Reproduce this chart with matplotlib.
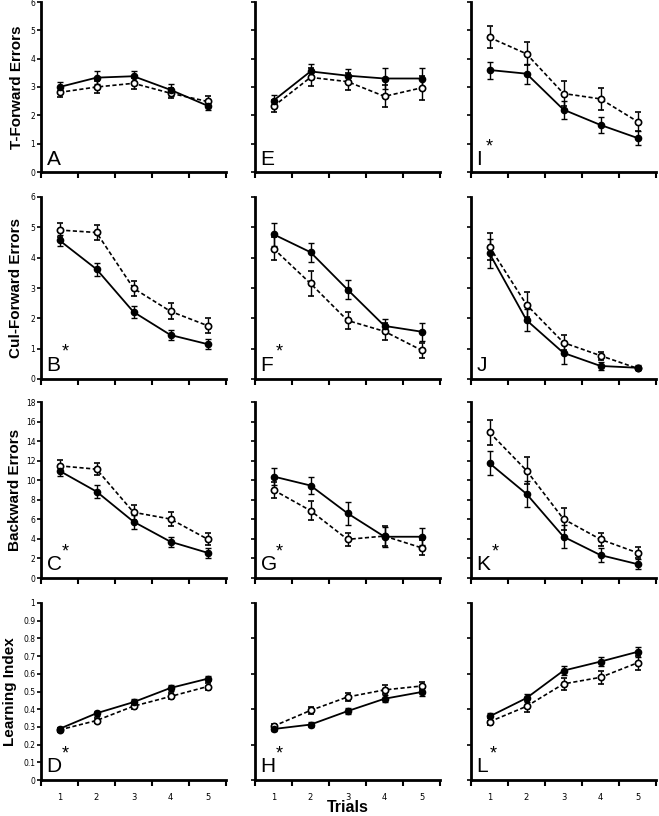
import numpy as np
import matplotlib
matplotlib.use("Agg")
import matplotlib.pyplot as plt

plt.rcParams['font.family'] = ['Liberation Sans', 'DejaVu Sans']

trials = [1, 2, 3, 4, 5]

# row 1: T-Forward errors
A_filled = [3.00, 3.33, 3.38, 2.90, 2.34]
A_filled_err = [0.17, 0.23, 0.20, 0.20, 0.16]
A_open = [2.81, 3.00, 3.13, 2.78, 2.49]
A_open_err = [0.18, 0.20, 0.20, 0.18, 0.18]
E_filled = [2.52, 3.55, 3.40, 3.30, 3.30]
E_filled_err = [0.19, 0.26, 0.25, 0.36, 0.36]
E_open = [2.32, 3.34, 3.19, 2.67, 2.97]
E_open_err = [0.21, 0.32, 0.29, 0.39, 0.42]
I_filled = [3.60, 3.47, 2.20, 1.66, 1.20]
I_filled_err = [0.30, 0.35, 0.32, 0.28, 0.26]
I_open = [4.75, 4.17, 2.77, 2.58, 1.78]
I_open_err = [0.39, 0.41, 0.45, 0.38, 0.34]

# row 2: Cul-Forward errors
B_filled = [4.57, 3.62, 2.21, 1.45, 1.15]
B_filled_err = [0.19, 0.22, 0.20, 0.17, 0.17]
B_open = [4.91, 4.83, 2.99, 2.23, 1.76]
B_open_err = [0.22, 0.26, 0.25, 0.26, 0.25]
F_filled = [4.77, 4.18, 2.95, 1.75, 1.56]
F_filled_err = [0.38, 0.31, 0.30, 0.24, 0.30]
F_open = [4.30, 3.15, 1.93, 1.57, 0.95]
F_open_err = [0.37, 0.41, 0.28, 0.29, 0.25]
J_filled = [4.14, 1.94, 0.86, 0.43, 0.37]
J_filled_err = [0.47, 0.37, 0.37, 0.12, 0.08]
J_open = [4.36, 2.45, 1.20, 0.77, 0.35]
J_open_err = [0.45, 0.42, 0.26, 0.13, 0.05]

# row 3: Backward errors
C_filled = [10.96, 8.84, 5.76, 3.71, 2.58]
C_filled_err = [0.5, 0.7, 0.7, 0.5, 0.5]
C_open = [11.47, 11.13, 6.72, 6.03, 3.98]
C_open_err = [0.6, 0.6, 0.75, 0.75, 0.65]
G_filled = [10.38, 9.46, 6.62, 4.22, 4.22]
G_filled_err = [0.85, 0.9, 1.2, 1.0, 0.85]
G_open = [9.0, 6.89, 3.95, 4.29, 3.09]
G_open_err = [0.8, 0.95, 0.7, 1.0, 0.75]
K_filled = [11.74, 8.6, 4.22, 2.34, 1.42]
K_filled_err = [1.25, 1.35, 1.2, 0.7, 0.5]
K_open = [14.89, 10.99, 6.03, 3.95, 2.58]
K_open_err = [1.25, 1.37, 1.1, 0.7, 0.55]

# row 4: Learning index
D_filled = [0.289, 0.377, 0.440, 0.520, 0.572]
D_filled_err = [0.012, 0.015, 0.017, 0.015, 0.014]
D_open = [0.283, 0.336, 0.417, 0.472, 0.528]
D_open_err = [0.012, 0.015, 0.018, 0.017, 0.020]
H_filled = [0.288, 0.313, 0.389, 0.459, 0.497]
H_filled_err = [0.012, 0.012, 0.015, 0.020, 0.025]
H_open = [0.304, 0.393, 0.469, 0.509, 0.531]
H_open_err = [0.012, 0.022, 0.022, 0.025, 0.020]
L_filled = [0.359, 0.463, 0.618, 0.669, 0.724]
L_filled_err = [0.020, 0.025, 0.025, 0.025, 0.030]
L_open = [0.329, 0.416, 0.543, 0.580, 0.662]
L_open_err = [0.020, 0.030, 0.035, 0.035, 0.040]

row_labels = ["T-Forward Errors", "Cul-Forward Errors", "Backward Errors", "Learning Index"]
row_ymax = [6, 6, 18, 1]
row_step_left = [1, 1, 2, 0.1]
row_step_other = [1, 1, 2, 0.2]

panels = [
    [("A", False, A_filled, A_filled_err, A_open, A_open_err),
     ("E", False, E_filled, E_filled_err, E_open, E_open_err),
     ("I", True, I_filled, I_filled_err, I_open, I_open_err)],
    [("B", True, B_filled, B_filled_err, B_open, B_open_err),
     ("F", True, F_filled, F_filled_err, F_open, F_open_err),
     ("J", False, J_filled, J_filled_err, J_open, J_open_err)],
    [("C", True, C_filled, C_filled_err, C_open, C_open_err),
     ("G", True, G_filled, G_filled_err, G_open, G_open_err),
     ("K", True, K_filled, K_filled_err, K_open, K_open_err)],
    [("D", True, D_filled, D_filled_err, D_open, D_open_err),
     ("H", True, H_filled, H_filled_err, H_open, H_open_err),
     ("L", True, L_filled, L_filled_err, L_open, L_open_err)],
]

W, H = 659, 816
fig = plt.figure(figsize=(W / 100, H / 100), dpi=100)

col_left = [41, 255, 471]
col_width = 185
row_top = [2, 197, 402, 603]
row_bottom = [172, 379, 578, 780]
label_x = [17, 16, 15, 10]
narrow = ['Liberation Sans Narrow', 'DejaVu Sans']
star_x = {"I": 0.08, "L": 0.1}

x = np.array(trials) - 0.5

for r in range(4):
    for c in range(3):
        letter, star, yf, ef, yo, eo = panels[r][c]
        ax = fig.add_axes([col_left[c] / W, 1 - row_bottom[r] / H,
                           col_width / W, (row_bottom[r] - row_top[r]) / H])
        ax.errorbar(x, yo, yerr=eo, fmt='o', linestyle=(0, (2.5, 1.5)), color='black',
                    mfc='white', mec='black', ms=4.5, mew=1.2, lw=1.2,
                    capsize=2.5, elinewidth=1.0, capthick=1.0)
        ax.errorbar(x, yf, yerr=ef, fmt='o', linestyle='-', color='black',
                    mfc='black', mec='black', ms=4.5, lw=1.3,
                    capsize=2.5, elinewidth=1.0, capthick=1.0)

        ax.set_xlim(0, 5)
        ax.set_ylim(0, row_ymax[r])
        for s in ['top', 'right']:
            ax.spines[s].set_visible(False)
        for s in ['left', 'bottom']:
            ax.spines[s].set_linewidth(2.0)

        ax.set_xticks(range(6))
        ax.set_xticklabels([])
        ax.tick_params(axis='x', which='major', direction='out', length=4, width=1.5)
        if r == 3:
            ax.set_xticks(x, minor=True)
            ax.set_xticklabels([str(t) for t in trials], minor=True,
                               fontsize=6, family=narrow)
            ax.tick_params(axis='x', which='minor', length=0, pad=9)

        step = row_step_left[r] if c == 0 else row_step_other[r]
        yt = np.arange(0, row_ymax[r] + step / 2, step)
        ax.set_yticks(yt)
        ax.tick_params(axis='y', direction='out', length=3, width=1.2, pad=1)
        if c == 0:
            ax.set_yticklabels(["%g" % v for v in yt], fontsize=5.5, family=narrow)
        else:
            ax.set_yticklabels([])

        ax.text(0.03, 0.02, letter, transform=ax.transAxes, fontsize=15,
                ha='left', va='bottom')
        if star:
            ax.text(star_x.get(letter, 0.11), 0.1, "*", transform=ax.transAxes,
                    fontsize=13, ha='left', va='bottom')

    fig.text(label_x[r] / W, 1 - (row_top[r] + row_bottom[r]) / 2 / H, row_labels[r],
             rotation=90, ha='center', va='center', fontsize=11, fontweight='bold')

fig.text(348 / W, 1 - 808 / H, "Trials", ha='center', va='center',
         fontsize=11.5, fontweight='bold')

fig.savefig("out.png", dpi=100)
